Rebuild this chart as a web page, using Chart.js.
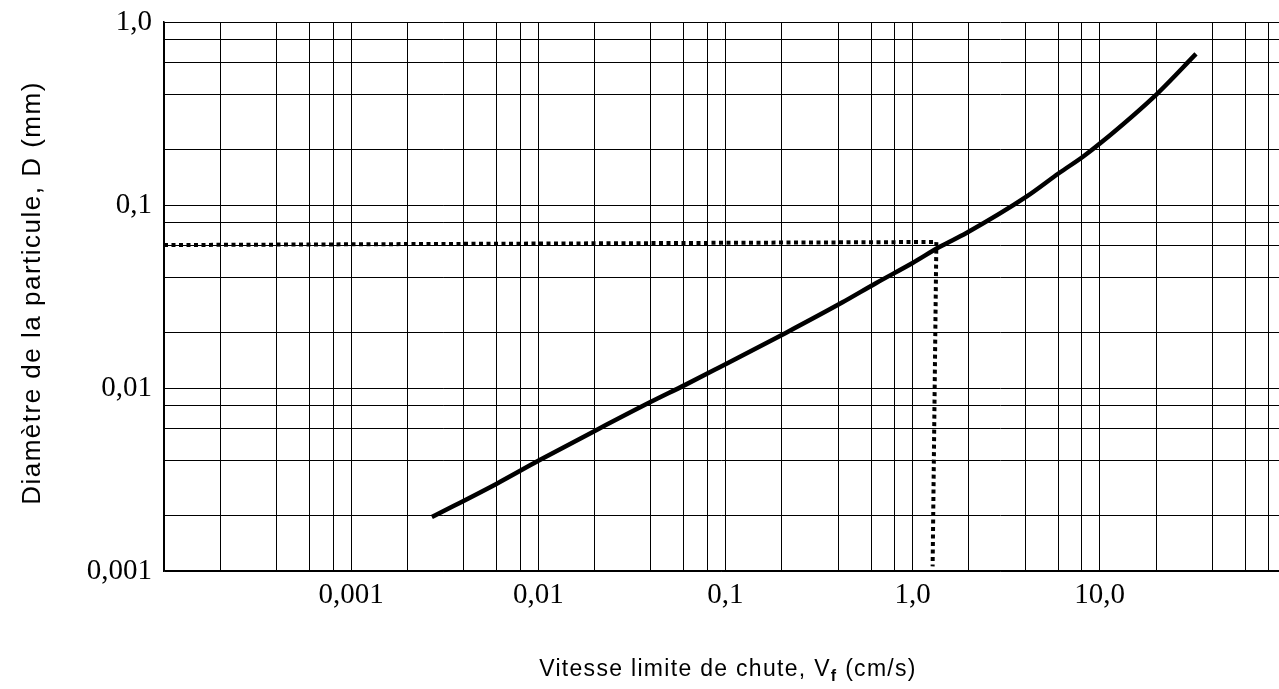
<!DOCTYPE html>
<html>
<head>
<meta charset="utf-8">
<script src="https://cdn.jsdelivr.net/npm/chart.js@4"></script>
<style>
  html, body { margin: 0; padding: 0; background: #fff; overflow: hidden; }
  #wrap { position: relative; width: 1279px; height: 689px; }
</style>
</head>
<body>
<div id="wrap"><canvas id="chart"></canvas></div>
<script>
// Terminal fall velocity (cm/s) vs particle diameter (mm)
const velocity = [0.0027, 0.006, 0.01, 0.0205, 0.04, 0.061, 0.092, 0.21, 0.42, 0.64, 1.0, 1.39, 1.94, 4.06, 6.1, 8.1, 10.1, 20.2, 32.7];
const diameter = [0.00197, 0.003, 0.004, 0.0059, 0.0084, 0.0104, 0.0129, 0.020, 0.0293, 0.0375, 0.0482, 0.0589, 0.0703, 0.111, 0.150, 0.183, 0.218, 0.404, 0.669];

// Dotted reading line (D = 0,06 mm -> Vf about 1,3 cm/s)
const refVelocity = [0.0001, 1.34, 1.28];
const refDiameter = [0.0604, 0.0628, 0.00106];

// Log paper: lines at 1, 2, 4, 6, 8 of every decade
const gridSteps = [1, 2, 4, 6, 8];
const xDecades = [0.0001, 0.001, 0.01, 0.1, 1, 10];
const yDecades = [0.001, 0.01, 0.1];
const xLabelValues = [0.001, 0.01, 0.1, 1, 10];
const xLabelTexts = ["0,001", "0,01", "0,1", "1,0", "10,0"];
const yLabelValues = [0.001, 0.01, 0.1, 1];
const yLabelTexts = ["0,001", "0,01", "0,1", "1,0"];

const yTitle = "Diamètre de la particule, D (mm)";
const xTitleMain = "Vitesse limite de chute, V";
const xTitleSub = "f";
const xTitleTail = " (cm/s)";

function gridValues(decades, extra) {
  const out = [];
  decades.forEach((d) => gridSteps.forEach((s) => out.push(d * s)));
  return out.concat(extra);
}

function labelFor(value, values, texts) {
  const i = values.findIndex((v) => Math.abs(Math.log10(v) - Math.log10(value)) < 1e-6);
  return i >= 0 ? texts[i] : "";
}

const xGrid = gridValues(xDecades, []);
const yGrid = gridValues(yDecades, [1]);

// Axis titles drawn by hand so the subscript and letter spacing can be kept
const axisTitles = {
  id: "axisTitles",
  afterDraw(chart) {
    const ctx = chart.ctx;
    const big = '23px "Liberation Sans", Arial, sans-serif';
    const small = 'bold 16px "Liberation Sans", Arial, sans-serif';
    ctx.save();
    ctx.fillStyle = "#000";
    ctx.textBaseline = "alphabetic";
    ctx.textAlign = "left";
    if ("letterSpacing" in ctx) ctx.letterSpacing = "1.3px";

    ctx.font = big;
    const wMain = ctx.measureText(xTitleMain).width;
    const wTail = ctx.measureText(xTitleTail).width;
    ctx.font = small;
    const wSub = ctx.measureText(xTitleSub).width;
    let x = 728 - (wMain + wSub + wTail) / 2;
    const base = 676;
    ctx.font = big;
    ctx.fillText(xTitleMain, x, base);
    x += wMain;
    ctx.font = small;
    ctx.fillText(xTitleSub, x, base + 5);
    x += wSub;
    ctx.font = big;
    ctx.fillText(xTitleTail, x, base);

    if ("letterSpacing" in ctx) ctx.letterSpacing = "1.5px";
    ctx.font = '26px "Liberation Sans", Arial, sans-serif';
    ctx.translate(40, 293);
    ctx.rotate(-Math.PI / 2);
    ctx.textAlign = "center";
    ctx.fillText(yTitle, 0, 0);
    ctx.restore();
  },
};

const tickFont = { family: '"Liberation Serif", "Times New Roman", serif', size: 29 };

new Chart(document.getElementById("chart"), {
  type: "line",
  data: {
    datasets: [
      {
        label: "D(Vf)",
        data: velocity.map((v, i) => ({ x: v, y: diameter[i] })),
        borderColor: "#000",
        borderWidth: 4.5,
        pointRadius: 0,
        cubicInterpolationMode: "monotone",
        fill: false,
      },
      {
        label: "lecture",
        data: refVelocity.map((v, i) => ({ x: v, y: refDiameter[i] })),
        borderColor: "#000",
        borderWidth: 4,
        borderDash: [4, 3.5],
        pointRadius: 0,
        tension: 0,
        fill: false,
      },
    ],
  },
  options: {
    responsive: true,
    maintainAspectRatio: false,
    animation: false,
    layout: { padding: { top: 22, right: 0, bottom: 0, left: 0 } },
    plugins: {
      legend: { display: false },
      tooltip: { enabled: false },
    },
    scales: {
      x: {
        type: "logarithmic",
        min: 0.0001,
        max: 90.8,
        afterBuildTicks: (axis) => { axis.ticks = xGrid.map((v) => ({ value: v })); },
        afterFit: (axis) => {
          axis.height = 118;
          axis.paddingLeft = 0;
          axis.paddingRight = 0;
        },
        grid: { color: "#000", lineWidth: 1, drawTicks: false },
        border: { display: true, color: "#000", width: 1.5 },
        ticks: {
          autoSkip: false,
          maxRotation: 0,
          minRotation: 0,
          padding: 7,
          color: "#000",
          font: tickFont,
          callback: (value) => labelFor(value, xLabelValues, xLabelTexts),
        },
      },
      y: {
        type: "logarithmic",
        min: 0.001,
        max: 1,
        afterBuildTicks: (axis) => { axis.ticks = yGrid.map((v) => ({ value: v })); },
        afterFit: (axis) => {
          axis.width = 164;
          axis.paddingTop = 0;
          axis.paddingBottom = 0;
        },
        grid: { color: "#000", lineWidth: 1, drawTicks: false },
        border: { display: true, color: "#000", width: 1.5 },
        ticks: {
          autoSkip: false,
          padding: 12,
          color: "#000",
          font: tickFont,
          callback: (value) => labelFor(value, yLabelValues, yLabelTexts),
        },
      },
    },
  },
  plugins: [axisTitles],
});
</script>
</body>
</html>
